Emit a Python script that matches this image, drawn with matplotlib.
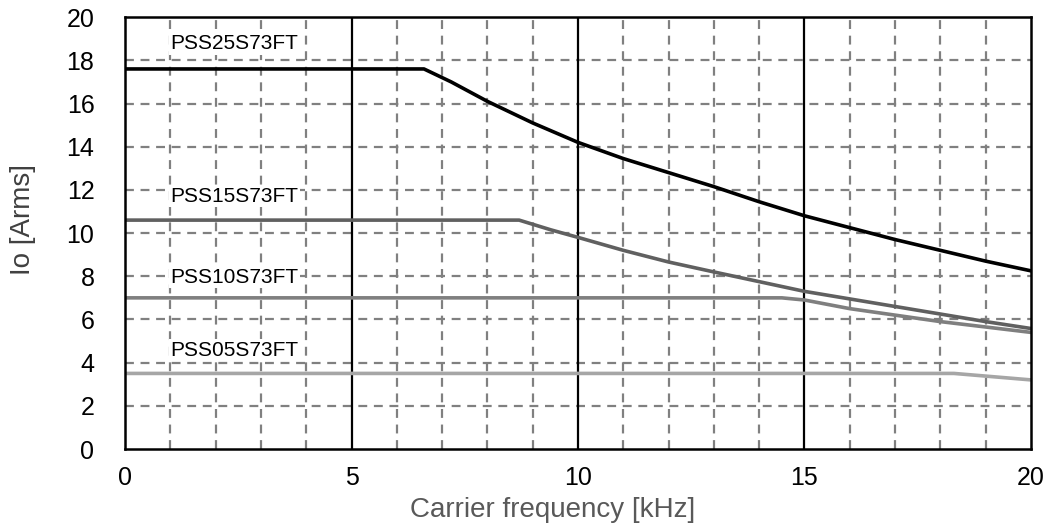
import matplotlib
matplotlib.use('Agg')
from matplotlib import pyplot as plt
from matplotlib.ticker import MultipleLocator

plt.rcParams['font.family'] = ['Liberation Sans', 'DejaVu Sans']

# Output current vs carrier frequency
freq_25 = [0, 6.6, 7.2, 8, 9, 10, 11, 12, 13, 14, 15, 16, 17, 18, 19, 20]
io_25 = [17.6, 17.6, 17.0, 16.1, 15.1, 14.2, 13.45, 12.8, 12.15, 11.45, 10.8, 10.25, 9.7, 9.2, 8.7, 8.25]

freq_15 = [0, 8.7, 9.4, 10, 11, 12, 13, 14, 15, 16, 17, 18, 19, 20]
io_15 = [10.6, 10.6, 10.15, 9.8, 9.2, 8.66, 8.2, 7.75, 7.3, 6.95, 6.6, 6.25, 5.9, 5.58]

freq_10 = [0, 14.5, 15, 16, 17, 18, 19, 20]
io_10 = [7.0, 7.0, 6.9, 6.5, 6.2, 5.9, 5.65, 5.4]

freq_05 = [0, 18.3, 20]
io_05 = [3.5, 3.5, 3.2]

labels = ['PSS25S73FT', 'PSS15S73FT', 'PSS10S73FT', 'PSS05S73FT']
label_y = [18.52, 11.46, 7.70, 4.32]

fig = plt.figure(figsize=(10.47, 5.27), dpi=100)
ax = fig.add_axes([0.1194, 0.148, 0.8653, 0.8195])

# Dashed minor grid, solid major verticals
for x in range(1, 20):
    if x % 5 == 0:
        ax.axvline(x, color='black', linewidth=1.6, zorder=2)
    else:
        ax.axvline(x, color='#808080', linewidth=1.6, linestyle=(0, (4, 3)), zorder=1)
for y in range(2, 20, 2):
    ax.axhline(y, color='#808080', linewidth=1.6, linestyle=(0, (4, 3)), zorder=1)

ax.plot(freq_25, io_25, color='black', linewidth=2.6, zorder=4)
ax.plot(freq_15, io_15, color='#606060', linewidth=2.6, zorder=4)
ax.plot(freq_10, io_10, color='#7f7f7f', linewidth=2.6, zorder=4)
ax.plot(freq_05, io_05, color='#a6a6a6', linewidth=2.6, zorder=4)

for name, y in zip(labels, label_y):
    ax.text(1.0, y, name, fontsize=15, va='baseline', ha='left', color='black', zorder=5,
            bbox=dict(facecolor='white', edgecolor='none', pad=1))

ax.set_xlim(0, 20)
ax.set_ylim(0, 20)
ax.xaxis.set_major_locator(MultipleLocator(5))
ax.yaxis.set_major_locator(MultipleLocator(2))
ax.tick_params(axis='both', length=0, labelsize=18)
ax.tick_params(axis='x', pad=12)
ax.tick_params(axis='y', pad=22)
for s in ax.spines.values():
    s.set_linewidth(1.8)
    s.set_zorder(6)

ax.set_xlabel('Carrier frequency [kHz]', fontsize=20, color='#595959')
ax.set_ylabel('Io [Arms]', fontsize=20, color='#404040')
ax.xaxis.set_label_coords(0.472, -0.110)
ax.yaxis.set_label_coords(-0.098, 0.532)

plt.savefig('out.png', dpi=100)
